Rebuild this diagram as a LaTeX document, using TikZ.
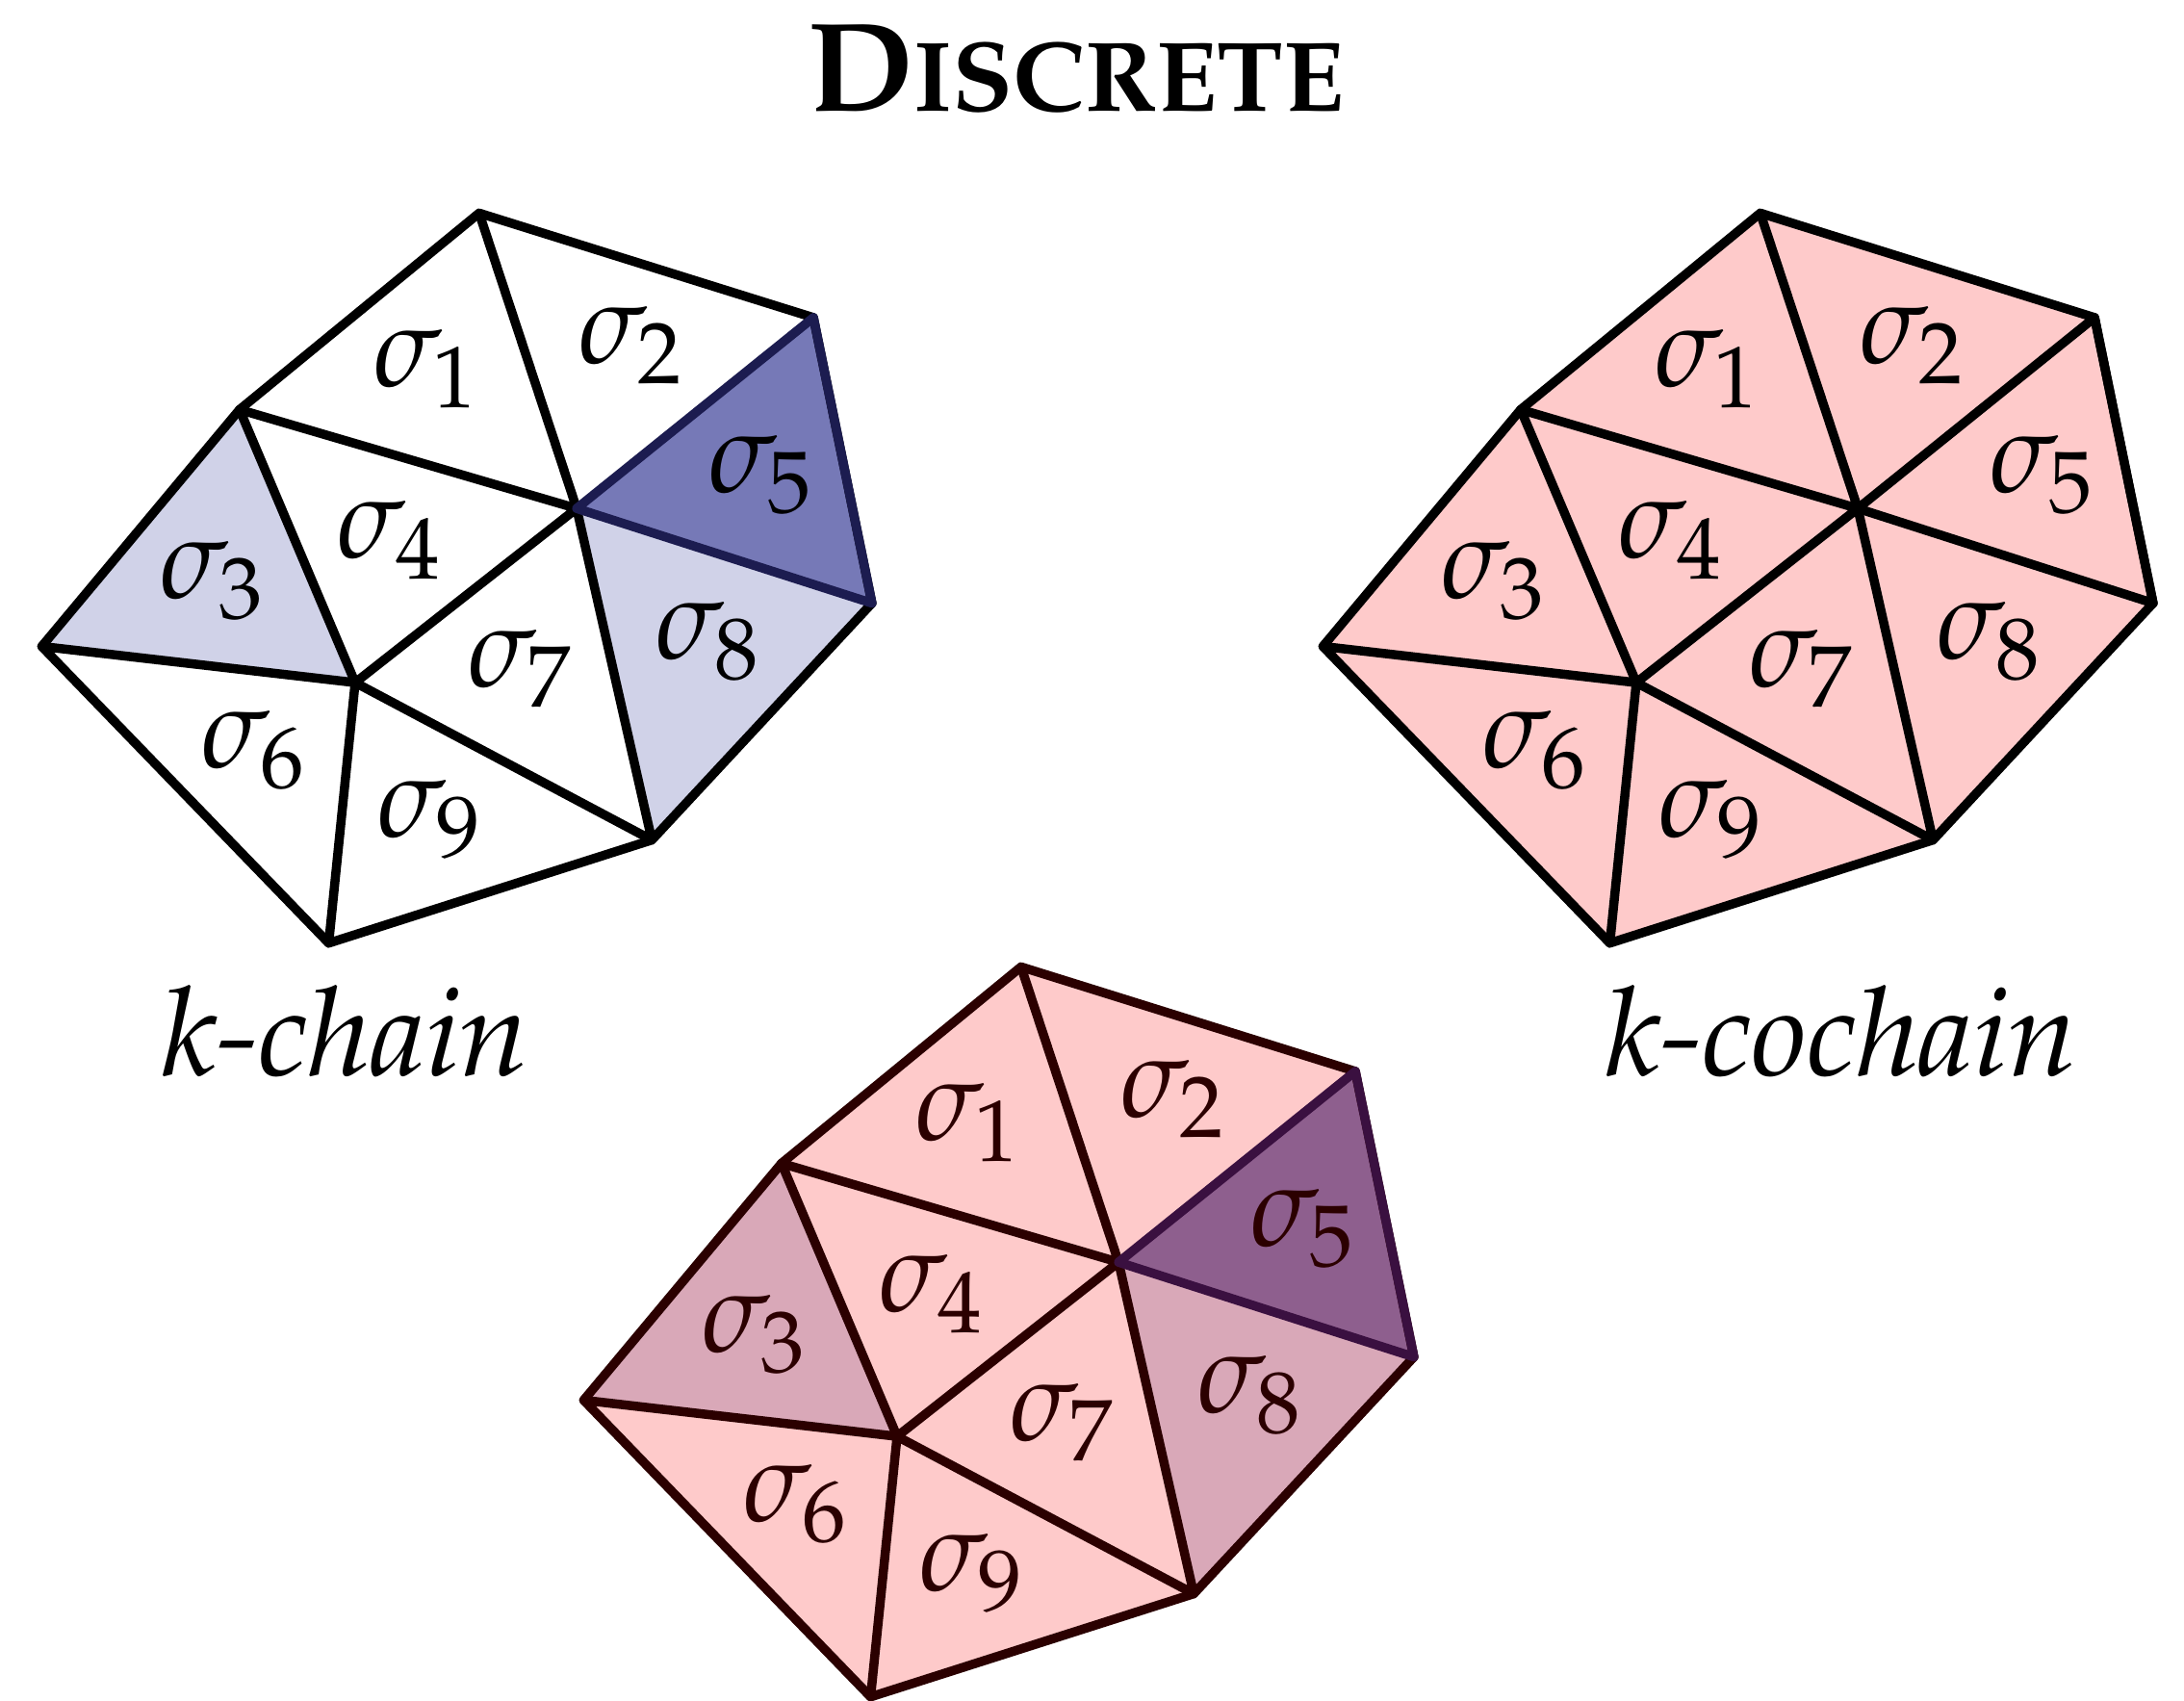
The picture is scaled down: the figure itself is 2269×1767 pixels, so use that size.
\documentclass[tikz,border=0pt]{standalone}
\usepackage[T1]{fontenc}
\usepackage[sc]{mathpazo}
\definecolor{lblue}{HTML}{D0D2E8}
\definecolor{dblue}{HTML}{7679B7}
\definecolor{navy}{HTML}{1C1C50}
\definecolor{pinkf}{HTML}{FECACA}
\definecolor{mauve}{HTML}{D9A8B8}
\definecolor{purp}{HTML}{8E5F8E}
\definecolor{brownl}{HTML}{2B0000}
\definecolor{dpurpl}{HTML}{3A1040}
\tikzset{
  edge/.style={line width=2.7pt, line join=round, line cap=round},
  lab/.style={inner sep=0pt, font=\fontsize{34}{40}\selectfont},
  captext/.style={inner sep=0pt, anchor=base, font=\fontsize{36.5}{44}\selectfont\itshape},
}
\newcommand\meshpts{%
  \coordinate (A) at (497.8,221.4);
  \coordinate (B) at (845.1,329.9);
  \coordinate (C) at (905.9,626.6);
  \coordinate (D) at (677.2,872.6);
  \coordinate (E) at (341.5,979.7);
  \coordinate (F) at (43.4,671.5);
  \coordinate (G) at (248.9,425.5);
  \coordinate (O) at (599.1,528.2);
  \coordinate (P) at (369.0,709.1);
}
% #1 base fill, #2 sigma3/8 fill, #3 sigma5 fill, #4 line colour, #5 text colour, #6 sigma5 edge colour
\newcommand\drawmesh[6]{%
  \meshpts
  \fill[#1] (A)--(B)--(C)--(D)--(E)--(F)--(G)--cycle;
  \fill[#2] (F)--(G)--(P)--cycle;
  \fill[#2] (O)--(C)--(D)--cycle;
  \fill[#3] (B)--(C)--(O)--cycle;
  \draw[edge,#4] (A)--(B)--(C)--(D)--(E)--(F)--(G)--cycle;
  \draw[edge,#4] (G)--(O) (A)--(O) (D)--(O) (P)--(O)
                 (G)--(P) (F)--(P) (E)--(P) (D)--(P);
  \draw[edge,#6] (B)--(C)--(O)--cycle;
  \node[lab,text=#5] (s1) at (442,383) {$\sigma_1$};
  \node[lab,text=#5] (s2) at (655,359) {$\sigma_2$};
  \node[lab,text=#5] (s5) at (790,493) {$\sigma_5$};
  \node[lab,text=#5] (s4) at (404,561) {$\sigma_4$};
  \node[lab,text=#5] (s3) at (220,603) {$\sigma_3$};
  \node[lab,text=#5] (s7) at (540,695) {$\sigma_7$};
  \node[lab,text=#5] (s8) at (735,666) {$\sigma_8$};
  \node[lab,text=#5] (s6) at (263,779) {$\sigma_6$};
  \node[lab,text=#5] (s9) at (446,851) {$\sigma_9$};
}
\begin{document}
\begin{tikzpicture}[x=0.01cm,y=-0.01cm]
  \useasboundingbox (0,0) rectangle (2269,1767);
  \node[inner sep=0pt, anchor=base, font=\bfseries] (title) at (1118,116)
    {{\fontsize{37.5}{44}\selectfont D}{\fontsize{29.3}{36}\selectfont ISCRETE}};
  \begin{scope}
    \drawmesh{white}{lblue}{dblue}{black}{black}{navy}
  \end{scope}
  \begin{scope}[shift={(1331,0)}]
    \drawmesh{pinkf}{pinkf}{pinkf}{black}{black}{black}
  \end{scope}
  \begin{scope}[shift={(563,783)}]
    \drawmesh{pinkf}{mauve}{purp}{brownl}{brownl}{dpurpl}
  \end{scope}
  \node[captext] (kchain) at (359,1117) {k-chain};
  \node[captext] (kcochain) at (1913,1117) {k-cochain};
\end{tikzpicture}
\end{document}
